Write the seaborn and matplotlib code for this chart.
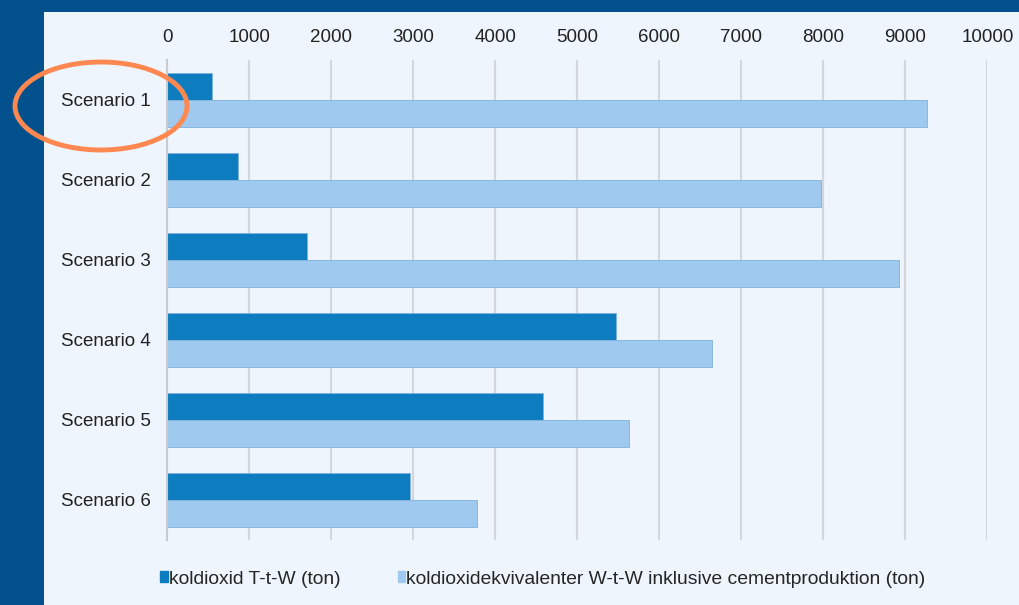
import pandas as pd
import numpy as np
import matplotlib.pyplot as plt
import seaborn as sns
from matplotlib.patches import Ellipse, Rectangle

scenarios = ['Scenario 1', 'Scenario 2', 'Scenario 3', 'Scenario 4', 'Scenario 5', 'Scenario 6']
ttw = [545, 860, 1705, 5470, 4580, 2960]
wtw = [9260, 7970, 8920, 6640, 5630, 3770]
series = ['koldioxid T-t-W (ton)',
          'koldioxidekvivalenter W-t-W inklusive cementproduktion (ton)']
xticks = [0, 1000, 2000, 3000, 4000, 5000, 6000, 7000, 8000, 9000, 10000]

df = pd.DataFrame({
    'Scenario': scenarios * 2,
    'Serie': [series[0]] * len(scenarios) + [series[1]] * len(scenarios),
    'ton': ttw + wtw,
})

sns.set_style("white")
plt.rcParams['font.family'] = ['Liberation Sans', 'DejaVu Sans']

fig = plt.figure(figsize=(10.2, 6.05), dpi=100)
fig.patch.set_facecolor('#03518c')
# light panel inside the dark blue frame
fig.patches.append(Rectangle((44 / 1020, 0), 1 - 44 / 1020, 1 - 12 / 605,
                             transform=fig.transFigure, facecolor='#eef5fc',
                             edgecolor='none', zorder=-10))

ax = fig.add_axes([167.5 / 1020, 1 - 540 / 605, 820 / 1020, 480 / 605])
ax.set_facecolor('none')
ax.set_zorder(1)

palette = {series[0]: '#0d7dc0', series[1]: '#9fc9ee'}
sns.barplot(data=df, y='Scenario', x='ton', hue='Serie', palette=palette,
            orient='h', width=0.67, ax=ax, saturation=1, legend=False,
            edgecolor='#7fb2dc', linewidth=0.6)

ax.set_xlim(0, 10000)
ax.set_ylim(5.5, -0.5)
ax.set_xticks(xticks)
ax.xaxis.tick_top()
ax.tick_params(axis='x', length=0, labelsize=13.5, colors='#222222', pad=10)
ax.tick_params(axis='y', length=0, labelsize=13.5, colors='#222222', pad=12)
ax.set_xlabel('')
ax.set_ylabel('')
ax.grid(axis='x', color='#d3d7dd', linewidth=1.5)
ax.set_axisbelow(True)
for s in ['top', 'right', 'bottom']:
    ax.spines[s].set_visible(False)
ax.spines['left'].set_color('#c8ccd2')
ax.spines['left'].set_linewidth(1.5)

# legend at the bottom
handles = [plt.Rectangle((0, 0), 1, 1, color=palette[s]) for s in series]
leg = fig.legend(handles, series, loc='center', bbox_to_anchor=(543 / 1020, 1 - 579 / 605),
                 ncol=2, frameon=False, fontsize=13.9, handlelength=0.38, handleheight=0.45,
                 handletextpad=0.05, columnspacing=3.0)
leg.set_zorder(2)

# orange highlight around Scenario 1
fig.patches.append(Ellipse((101 / 1020, 1 - 106 / 605), 172 / 1020, 88 / 605,
                           transform=fig.transFigure, facecolor='none',
                           edgecolor='#ff8750', linewidth=3.5, zorder=5))

fig.savefig('out.png', dpi=100, facecolor=fig.get_facecolor())
